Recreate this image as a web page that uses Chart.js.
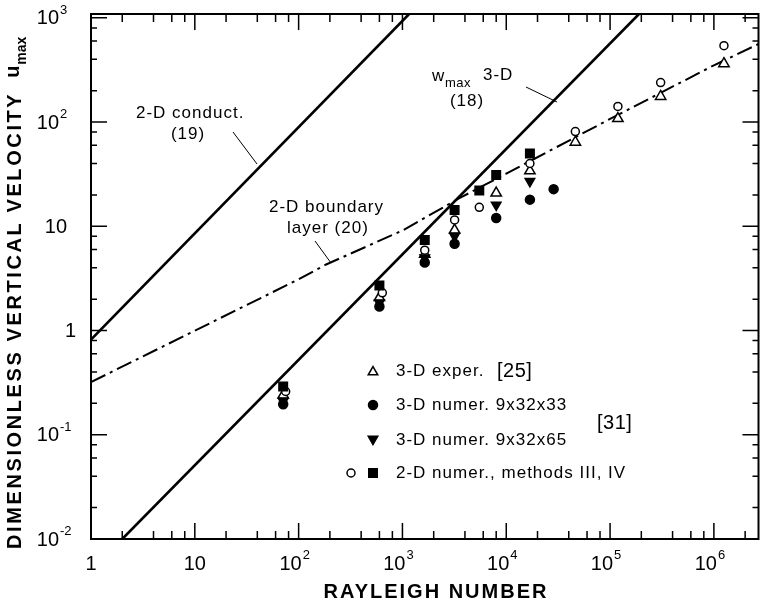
<!DOCTYPE html>
<html>
<head>
<meta charset="utf-8">
<script src="https://cdn.jsdelivr.net/npm/chart.js@4.4.0/dist/chart.umd.min.js"></script>
<style>
  html, body { margin: 0; padding: 0; background: #fff; }
</style>
</head>
<body>
<canvas id="grafico" width="766" height="604"></canvas>
<script>
// Limites dos eixos (escala log)
const xMin = 1, xMax = 2.69e6;
const yMin = 0.01, yMax = 1087;
const xDecadas = [0, 1, 2, 3, 4, 5, 6];
const yDecadas = [-2, -1, 0, 1, 2, 3];
const menores = [2, 4, 6, 8];

// Curvas teóricas
const conductRa = [1, 1160];
const conductU = [0.82, 1087];
const wmaxRa = [2, 1.9e5];
const wmaxU = [0.01, 1087];
const camadaRa = [1, 100, 184, 1000, 3500, 1e4, 1e5, 1e6, 2.69e6];
const camadaU = [0.32, 3.1, 4.3, 9.1, 18.5, 32, 107, 350, 560];

// Pontos medidos / calculados
const experRa = [71, 600, 1640, 3180, 8000, 16900, 46300, 119000, 307000, 1.25e6];
const experU = [0.24, 2.07, 5.4, 9.2, 20.8, 34, 64, 108, 176, 363];
const num33Ra = [71, 600, 1640, 3180, 8000, 16900, 28600];
const num33U = [0.196, 1.7, 4.5, 6.8, 12, 18, 22.7];
const num65Ra = [71, 600, 1640, 3180, 8000, 16900];
const num65U = [0.21, 1.85, 5.0, 8.0, 16, 27];
const met3Ra = [75, 640, 1640, 3180, 5500, 16900, 46300, 119000, 307000, 1.25e6];
const met3U = [0.26, 2.3, 5.9, 11.5, 15.2, 40, 81, 141, 239, 540];
const met4Ra = [71, 600, 1640, 3180, 5500, 8000, 16900];
const met4U = [0.29, 2.7, 7.4, 14.3, 22, 31, 50];

const fonte = '"Liberation Sans", Arial, Helvetica, sans-serif';

function pares(xs, ys) {
  return xs.map((x, i) => ({ x: x, y: ys[i] }));
}

function escreve(c, s, x, y, tam, opts) {
  opts = opts || {};
  c.font = (opts.peso || '') + ' ' + tam + 'px ' + fonte;
  c.letterSpacing = (opts.esp || 0) + 'px';
  c.textAlign = opts.alinha || 'left';
  c.textBaseline = 'middle';
  c.fillText(s, x, y);
  const w = c.measureText(s).width;
  c.letterSpacing = '0px';
  return w;
}

// "10" com expoente
function potencia(c, e, xDir, y, tam) {
  escreve(c, '10', xDir, y, tam, { alinha: 'right' });
  const sup = e < 0 ? '-' + (-e) : String(e);
  escreve(c, sup, xDir + 1, y - tam * 0.42, Math.round(tam * 0.65), { alinha: 'left' });
}

const moldura = {
  id: 'moldura',
  afterDraw(chart) {
    const c = chart.ctx;
    const a = chart.chartArea;
    const sx = chart.scales.x, sy = chart.scales.y;
    c.save();
    c.strokeStyle = '#000';
    c.fillStyle = '#000';

    // caixa
    c.lineWidth = 2;
    c.strokeRect(a.left, a.top, a.right - a.left, a.bottom - a.top);

    // marcas
    c.lineWidth = 1.5;
    c.beginPath();
    xDecadas.forEach(e => {
      const p = Math.pow(10, e);
      const px = sx.getPixelForValue(p);
      c.moveTo(px, a.bottom); c.lineTo(px, a.bottom - 16);
      c.moveTo(px, a.top); c.lineTo(px, a.top + 16);
      menores.forEach(m => {
        if (m * p > xMax) return;
        const q = sx.getPixelForValue(m * p);
        c.moveTo(q, a.bottom); c.lineTo(q, a.bottom - 8);
        c.moveTo(q, a.top); c.lineTo(q, a.top + 8);
      });
    });
    yDecadas.forEach(e => {
      const p = Math.pow(10, e);
      const py = sy.getPixelForValue(p);
      c.moveTo(a.left, py); c.lineTo(a.left + 16, py);
      c.moveTo(a.right, py); c.lineTo(a.right - 16, py);
      menores.forEach(m => {
        if (m * p > yMax) return;
        const q = sy.getPixelForValue(m * p);
        c.moveTo(a.left, q); c.lineTo(a.left + 6, q);
        c.moveTo(a.right, q); c.lineTo(a.right - 6, q);
      });
    });
    c.stroke();

    // rótulos do eixo x
    xDecadas.forEach(e => {
      const px = sx.getPixelForValue(Math.pow(10, e));
      if (e === 0) escreve(c, '1', px, 564, 20, { alinha: 'center' });
      else if (e === 1) escreve(c, '10', px, 564, 20, { alinha: 'center' });
      else potencia(c, e, px + 3, 564, 20);
    });
    // rótulos do eixo y
    yDecadas.forEach(e => {
      const py = Math.max(sy.getPixelForValue(Math.pow(10, e)) + 1, 16);
      if (e === 0) escreve(c, '1', 76, py, 20, { alinha: 'right' });
      else if (e === 1) escreve(c, '10', 67, py, 20, { alinha: 'right' });
      else potencia(c, e, 59, py, 20);
    });

    // títulos
    escreve(c, 'RAYLEIGH NUMBER', 436, 592, 20, { peso: 'bold', esp: 2, alinha: 'center' });
    c.save();
    c.translate(15, 549);
    c.rotate(-Math.PI / 2);
    const w = escreve(c, 'DIMENSIONLESS VERTICAL VELOCITY', 0, 0, 20, { peso: 'bold', esp: 2.6 });
    escreve(c, 'u', w + 14, -2, 20, { peso: 'bold' });
    escreve(c, 'max', w + 27, 7, 14, { peso: 'bold' });
    c.restore();

    // anotações das curvas
    escreve(c, '2-D conduct.', 136, 113, 17, { esp: 1 });
    escreve(c, '(19)', 188, 134, 17, { esp: 1, alinha: 'center' });
    escreve(c, '2-D boundary', 269, 207, 17, { esp: 1 });
    escreve(c, 'layer (20)', 287, 228, 17, { esp: 1 });
    escreve(c, 'w', 432, 76, 17);
    escreve(c, 'max', 445, 83, 13, { esp: 0.5 });
    escreve(c, '3-D', 483, 75, 17, { esp: 1 });
    escreve(c, '(18)', 467, 101, 17, { esp: 1, alinha: 'center' });
    c.lineWidth = 1;
    c.beginPath();
    c.moveTo(233, 132); c.lineTo(257, 164);
    c.moveTo(315, 241); c.lineTo(331, 263);
    c.moveTo(526, 87); c.lineTo(557, 102);
    c.stroke();

    // legenda
    const simbolo = (estilo, x, y, r, cheio, rot) => {
      c.fillStyle = cheio ? '#000' : '#fff';
      c.lineWidth = 1.5;
      Chart.helpers.drawPoint(c, { pointStyle: estilo, radius: r, rotation: rot || 0, borderWidth: 1.5 }, x, y);
      c.fillStyle = '#000';
    };
    simbolo('triangle', 373, 372, 5.5, false);
    simbolo('circle', 373, 405, 4.5, true);
    simbolo('triangle', 373, 439, 5.5, true, 180);
    simbolo('circle', 351, 473, 4, false);
    simbolo('rect', 373, 473, 6, true);
    escreve(c, '3-D exper.', 396, 371, 17, { esp: 1 });
    escreve(c, '[25]', 497, 371, 20, { esp: 0.5 });
    escreve(c, '3-D numer. 9x32x33', 396, 405, 17, { esp: 1 });
    escreve(c, '3-D numer. 9x32x65', 396, 440, 17, { esp: 1 });
    escreve(c, '2-D numer., methods III, IV', 396, 473, 17, { esp: 1 });
    escreve(c, '[31]', 597, 423, 20, { esp: 0.5 });

    c.restore();
  }
};

const linha = (rotulo, xs, ys, largura, traco) => ({
  type: 'line',
  label: rotulo,
  data: pares(xs, ys),
  borderColor: '#000',
  borderWidth: largura,
  borderDash: traco || [],
  pointRadius: 0,
  fill: false,
  tension: 0
});

const pontos = (rotulo, xs, ys, estilo, raio, cheio, rot) => ({
  label: rotulo,
  data: pares(xs, ys),
  pointStyle: estilo,
  pointRadius: raio,
  pointRotation: rot || 0,
  pointBackgroundColor: cheio ? '#000' : '#fff',
  pointBorderColor: '#000',
  pointBorderWidth: 1.5,
  showLine: false
});

const ctx = document.getElementById('grafico').getContext('2d');
new Chart(ctx, {
  type: 'scatter',
  data: {
    datasets: [
      pontos('2-D numer. IV', met4Ra, met4U, 'rect', 6, true),
      pontos('3-D numer. 9x32x33', num33Ra, num33U, 'circle', 4.5, true),
      pontos('3-D numer. 9x32x65', num65Ra, num65U, 'triangle', 5.5, true, 180),
      pontos('2-D numer. III', met3Ra, met3U, 'circle', 4, false),
      pontos('3-D exper.', experRa, experU, 'triangle', 6, false),
      linha('2-D conduct. (19)', conductRa, conductU, 2.6),
      linha('w max 3-D (18)', wmaxRa, wmaxU, 2.6),
      linha('2-D boundary layer (20)', camadaRa, camadaU, 2, [16, 5, 3, 5])
    ]
  },
  options: {
    responsive: false,
    animation: false,
    layout: { padding: { left: 91, right: 1, top: 14, bottom: 65 } },
    plugins: { legend: { display: false }, tooltip: { enabled: false } },
    scales: {
      x: { type: 'logarithmic', min: xMin, max: xMax, display: false },
      y: { type: 'logarithmic', min: yMin, max: yMax, display: false }
    }
  },
  plugins: [moldura]
});
</script>
</body>
</html>
